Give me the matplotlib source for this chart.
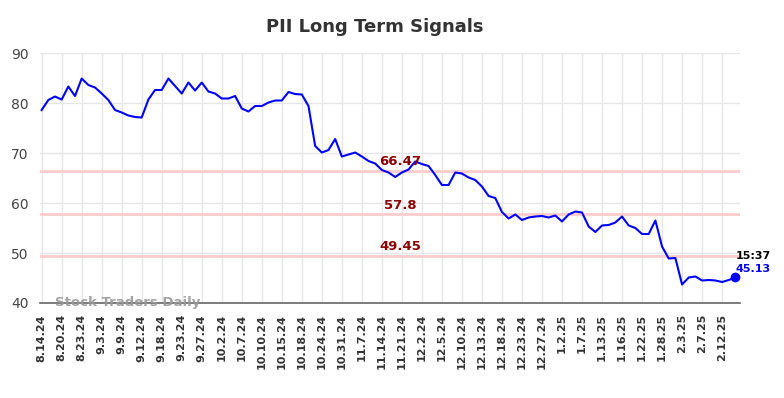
import matplotlib
matplotlib.use('Agg')
import matplotlib.pyplot as plt
import numpy as np

# signal values
values = [78.6, 80.6, 81.3, 80.7, 83.3, 81.4, 84.9, 83.6, 83.1, 81.9,
          80.6, 78.6, 78.1, 77.5, 77.2, 77.1, 80.7, 82.6, 82.6, 84.9,
          83.4, 81.9, 84.1, 82.5, 84.1, 82.3, 81.9, 80.9, 80.9, 81.4,
          78.9, 78.3, 79.4, 79.4, 80.1, 80.5, 80.5, 82.2, 81.8, 81.7,
          79.4, 71.4, 70.1, 70.6, 72.8, 69.3, 69.7, 70.1, 69.3, 68.4,
          67.9, 66.6, 66.1, 65.2, 66.1, 66.7, 68.3, 67.8, 67.4, 65.6,
          63.6, 63.6, 66.1, 65.9, 65.1, 64.6, 63.3, 61.4, 61.0, 58.2,
          56.9, 57.7, 56.6, 57.1, 57.3, 57.4, 57.1, 57.5, 56.3, 57.7,
          58.3, 58.1, 55.3, 54.2, 55.5, 55.6, 56.1, 57.3, 55.5, 55.0,
          53.8, 53.8, 56.5, 51.3, 48.9, 49.0, 43.7, 45.1, 45.3, 44.5,
          44.6, 44.5, 44.2, 44.6, 45.13]

tick_labels = ['8.14.24', '8.20.24', '8.23.24', '9.3.24', '9.9.24', '9.12.24',
               '9.18.24', '9.23.24', '9.27.24', '10.2.24', '10.7.24', '10.10.24',
               '10.15.24', '10.18.24', '10.24.24', '10.31.24', '11.7.24', '11.14.24',
               '11.21.24', '12.2.24', '12.5.24', '12.10.24', '12.13.24', '12.18.24',
               '12.23.24', '12.27.24', '1.2.25', '1.7.25', '1.13.25', '1.16.25',
               '1.22.25', '1.28.25', '2.3.25', '2.7.25', '2.12.25']
tick_step = 3

levels = [66.47, 57.8, 49.45]
level_text = ['66.47', '57.8', '49.45']
last_time = '15:37'

x = np.arange(len(values))

fig = plt.figure(figsize=(7.84, 3.98), dpi=100)
ax = fig.add_axes([0.051, 0.2387, 0.893, 0.6281])

ax.set_xlim(-0.25, 104.7)
ax.set_ylim(40, 90)
ax.set_yticks([40, 50, 60, 70, 80, 90])
ax.set_xticks(x[::tick_step][:len(tick_labels)])
ax.set_xticklabels(tick_labels, rotation=90, fontsize=8, fontweight='bold', color='#333333')
ax.tick_params(axis='y', labelsize=10, colors='#444444', length=0, pad=8)
ax.tick_params(axis='x', length=0, pad=8)

ax.grid(True, color='#e6e6e6', linewidth=1)
ax.set_axisbelow(True)
for s in ['top', 'right', 'left']:
    ax.spines[s].set_visible(False)
ax.spines['bottom'].set_color('#666666')
ax.spines['bottom'].set_linewidth(1.2)

for lv, txt in zip(levels, level_text):
    ax.axhline(lv, color='#ffcccc', linewidth=2, zorder=1)
    ax.text(53.7, lv + 0.5, txt, ha='center', va='bottom', fontsize=9.5,
            fontweight='bold', color='#8b0000', zorder=4)

ax.plot(x, values, color='#0000ff', linewidth=1.5, zorder=3)
ax.plot(x[-1], values[-1], 'o', color='#0000ff', markersize=6, zorder=5)
ax.text(x[-1], values[-1] + 4.2, last_time, ha='left', va='center', fontsize=8,
        fontweight='bold', color='black')
ax.text(x[-1], values[-1] + 1.6, '{:.2f}'.format(values[-1]), ha='left', va='center',
        fontsize=8, fontweight='bold', color='#0000ff')

ax.text(2, 40.1, 'Stock Traders Daily', ha='left', va='center', fontsize=9.5,
        fontweight='bold', color='#999999', alpha=0.9)

fig.suptitle('PII Long Term Signals', x=0.478, y=0.955, fontsize=13,
             fontweight='bold', color='#333333')

fig.savefig('out.png', dpi=100)
